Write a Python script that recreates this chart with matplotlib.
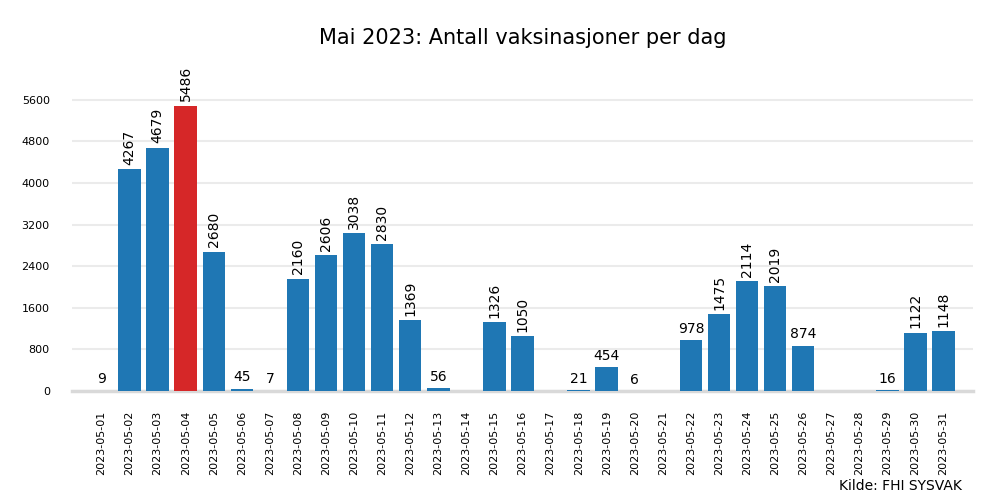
import matplotlib
matplotlib.use("Agg")
import matplotlib.pyplot as plt

datoer = ["2023-05-%02d" % d for d in range(1, 32)]
antall = [9, 4267, 4679, 5486, 2680, 45, 7, 2160, 2606, 3038, 2830, 1369, 56, 0,
          1326, 1050, 0, 21, 454, 6, 0, 978, 1475, 2114, 2019, 874, 0, 0, 16, 1122, 1148]
y_ticks = [0, 800, 1600, 2400, 3200, 4000, 4800, 5600]

maks = max(antall)
farger = ["#d62728" if v == maks else "#1f77b4" for v in antall]

fig = plt.figure(figsize=(10, 5), dpi=100)
ax = fig.add_axes([0.072, 0.218, 0.901, 0.628])

x = list(range(len(antall)))
ax.bar(x, antall, width=0.8, color=farger, zorder=3)

# verdier over stolpene
for i, v in enumerate(antall):
    if v == 0:
        continue
    if v >= 1000:
        ax.text(i, v + 80, str(v), rotation=90, ha="center", va="bottom", fontsize=10)
    else:
        ax.text(i, v + 80, str(v), ha="center", va="bottom", fontsize=10)

ax.set_xlim(-1.05, 31.05)
ax.set_ylim(0, 6035)
ax.set_yticks(y_ticks)
ax.set_yticklabels([str(t) for t in y_ticks], fontsize=8)
ax.set_xticks(x)
ax.set_xticklabels(datoer, rotation=90, fontsize=8)
ax.tick_params(length=0, pad=14)
ax.tick_params(axis="y", pad=16)
ax.grid(axis="y", color="#ebebeb", linewidth=1.5, zorder=0)
for s in ["left", "right", "top"]:
    ax.spines[s].set_visible(False)
ax.spines["bottom"].set_color("#d9d9d9")
ax.spines["bottom"].set_linewidth(2.5)

fig.suptitle("Mai 2023: Antall vaksinasjoner per dag", fontsize=15, x=0.5225, y=0.943)
fig.text(0.962, 0.015, "Kilde: FHI SYSVAK", ha="right", va="bottom", fontsize=10)

fig.savefig("out.png", dpi=100)
